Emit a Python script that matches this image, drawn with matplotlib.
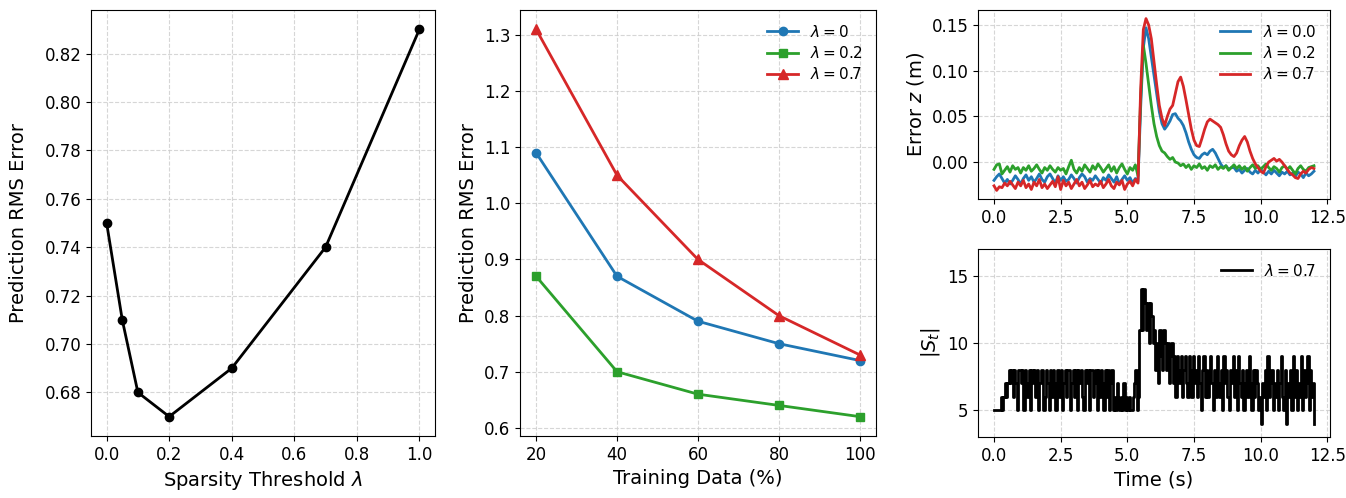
import numpy as np
import matplotlib
matplotlib.use("Agg")
import matplotlib.pyplot as plt

# left panel: sparsity threshold sweep
lam_vals = [0.0, 0.05, 0.1, 0.2, 0.4, 0.7, 1.0]
lam_rms = [0.75, 0.71, 0.68, 0.67, 0.69, 0.74, 0.83]

# middle panel: training data size
train_pct = [20, 40, 60, 80, 100]
rms_l0 = [1.09, 0.87, 0.79, 0.75, 0.72]
rms_l02 = [0.87, 0.70, 0.66, 0.64, 0.62]
rms_l07 = [1.31, 1.05, 0.90, 0.80, 0.73]

# top right: tracking error, 0.1 s steps from 0 to 12 s
t_err = np.round(np.arange(121) * 0.1, 1)

err_l0 = [
    -0.020, -0.016, -0.013, -0.018, -0.023, -0.019, -0.024, -0.020, -0.015, -0.019,
    -0.024, -0.018, -0.014, -0.020, -0.016, -0.022, -0.018, -0.013, -0.019, -0.022,
    -0.016, -0.013, -0.018, -0.023, -0.015, -0.020, -0.016, -0.021, -0.019, -0.014,
    -0.018, -0.023, -0.017, -0.013, -0.016, -0.022, -0.018, -0.020, -0.015, -0.019,
    -0.023, -0.017, -0.020, -0.014, -0.018, -0.022, -0.016, -0.024, -0.019, -0.015,
    -0.020, -0.017, -0.023, -0.018, -0.021, 0.060, 0.125, 0.147, 0.135, 0.115,
    0.095, 0.075, 0.055, 0.042, 0.036, 0.040, 0.045, 0.052, 0.053, 0.048,
    0.045, 0.040, 0.032, 0.022, 0.014, 0.008, 0.005, 0.004, 0.008, 0.010,
    0.008, 0.012, 0.014, 0.010, 0.004, -0.002, -0.006, -0.004, -0.008, -0.006,
    -0.006, -0.010, -0.008, -0.012, -0.009, -0.007, -0.011, -0.013, -0.009, -0.012,
    -0.008, -0.011, -0.014, -0.010, -0.013, -0.009, -0.012, -0.015, -0.011, -0.013,
    -0.010, -0.014, -0.012, -0.016, -0.011, -0.013, -0.017, -0.012, -0.015, -0.013,
    -0.010,
]
err_l02 = [
    -0.008, -0.003, -0.002, -0.013, -0.009, -0.005, -0.011, -0.004, -0.008, -0.006,
    -0.012, -0.006, -0.009, -0.004, -0.010, -0.007, -0.003, -0.008, -0.012, -0.006,
    -0.009, -0.004, -0.008, -0.011, -0.006, -0.009, -0.007, -0.013, -0.005, 0.002,
    -0.008, -0.012, -0.006, -0.010, -0.003, -0.007, -0.011, -0.004, -0.008, -0.002,
    -0.006, -0.011, -0.007, -0.003, -0.010, -0.005, -0.012, -0.006, -0.002, -0.008,
    -0.013, -0.006, -0.009, -0.003, -0.015, 0.070, 0.128, 0.108, 0.085, 0.062,
    0.042, 0.028, 0.018, 0.012, 0.010, 0.006, 0.003, 0.005, 0.000, -0.001,
    -0.004, -0.002, -0.006, -0.003, -0.008, -0.004, -0.006, -0.002, -0.007, -0.005,
    -0.009, -0.004, -0.006, -0.003, -0.008, -0.005, -0.007, -0.004, -0.009, -0.006,
    -0.003, -0.007, -0.004, -0.008, -0.005, -0.010, -0.006, -0.003, -0.007, -0.004,
    -0.008, -0.005, -0.002, -0.006, -0.009, -0.005, -0.007, -0.011, -0.006, -0.004,
    -0.008, -0.005, -0.009, -0.013, -0.007, -0.004, -0.008, -0.010, -0.006, -0.005,
    -0.004,
]
err_l07 = [
    -0.026, -0.031, -0.027, -0.028, -0.023, -0.026, -0.021, -0.025, -0.029, -0.022,
    -0.026, -0.020, -0.028, -0.024, -0.030, -0.022, -0.026, -0.019, -0.028, -0.024,
    -0.029, -0.025, -0.021, -0.027, -0.016, -0.030, -0.020, -0.026, -0.022, -0.029,
    -0.024, -0.019, -0.026, -0.022, -0.029, -0.025, -0.020, -0.027, -0.024, -0.026,
    -0.021, -0.028, -0.024, -0.019, -0.026, -0.029, -0.022, -0.025, -0.020, -0.030,
    -0.024, -0.021, -0.026, -0.019, -0.023, 0.080, 0.145, 0.157, 0.150, 0.135,
    0.110, 0.085, 0.062, 0.048, 0.040, 0.050, 0.058, 0.062, 0.075, 0.088,
    0.093, 0.083, 0.068, 0.052, 0.036, 0.024, 0.018, 0.017, 0.026, 0.036,
    0.044, 0.047, 0.045, 0.043, 0.041, 0.038, 0.030, 0.020, 0.012, 0.008,
    0.006, 0.010, 0.018, 0.024, 0.028, 0.022, 0.012, 0.004, -0.002, -0.006,
    -0.010, -0.012, -0.005, 0.000, 0.002, 0.004, 0.001, 0.003, 0.000, -0.004,
    -0.008, -0.012, -0.014, -0.017, -0.018, -0.013, -0.010, -0.012, -0.008, -0.006,
    -0.007,
]

# bottom right: active set size, 0.05 s steps from 0 to 12 s
t_sup = np.round(np.arange(241) * 0.05, 2)
support_size = [
    5, 5, 5, 5, 5, 6, 5, 6, 7, 6,
    7, 8, 7, 8, 6, 8, 7, 5, 8, 8,
    7, 8, 5, 8, 7, 6, 8, 5, 8, 7,
    8, 6, 8, 5, 7, 8, 8, 5, 6, 8,
    7, 5, 8, 6, 8, 7, 5, 8, 8, 6,
    8, 5, 7, 8, 6, 8, 8, 5, 7, 8,
    6, 8, 5, 8, 7, 8, 6, 5, 8, 7,
    8, 5, 8, 8, 6, 7, 8, 5, 8, 6,
    8, 7, 5, 8, 6, 8, 5, 7, 8, 5,
    6, 5, 7, 6, 5, 6, 5, 7, 5, 6,
    5, 6, 5, 5, 6, 7, 8, 5, 6, 11,
    14, 11, 14, 13, 11, 13, 10, 13, 12, 10,
    11, 8, 10, 7, 11, 9, 8, 11, 10, 8,
    10, 7, 9, 10, 7, 9, 6, 9, 8, 7,
    9, 6, 8, 9, 7, 6, 9, 8, 6, 9,
    7, 8, 6, 9, 7, 5, 8, 9, 6, 8,
    6, 8, 9, 7, 5, 8, 6, 9, 7, 6,
    8, 5, 9, 7, 8, 6, 5, 8, 7, 9,
    6, 8, 5, 9, 7, 6, 8, 5, 7, 8,
    6, 9, 7, 5, 8, 6, 8, 7, 5, 6,
    4, 7, 6, 8, 5, 9, 6, 7, 8, 5,
    7, 6, 8, 5, 7, 9, 6, 5, 8, 4,
    7, 6, 8, 5, 9, 6, 8, 5, 7, 6,
    9, 5, 8, 6, 7, 9, 5, 8, 6, 7,
    4,
]

blue, green, red = "#1f77b4", "#2ca02c", "#d62728"
plt.rcParams["font.size"] = 12

fig = plt.figure(figsize=(13.46, 4.98), dpi=100)
ax1 = fig.add_axes([0.0676, 0.1245, 0.2556, 0.8554])
ax2 = fig.add_axes([0.3863, 0.1245, 0.2645, 0.8554])
ax3 = fig.add_axes([0.7266, 0.6004, 0.2615, 0.3795])
ax4 = fig.add_axes([0.7266, 0.1225, 0.2615, 0.3775])

ax1.plot(lam_vals, lam_rms, color="black", marker="o", lw=2, ms=6)
ax1.set_xlabel(r"Sparsity Threshold $\lambda$", fontsize=14)
ax1.set_ylabel("Prediction RMS Error", fontsize=14, labelpad=12)

ax2.plot(train_pct, rms_l0, color=blue, marker="o", lw=2, ms=6, label=r"$\lambda = 0$")
ax2.plot(train_pct, rms_l02, color=green, marker="s", lw=2, ms=6, label=r"$\lambda = 0.2$")
ax2.plot(train_pct, rms_l07, color=red, marker="^", lw=2, ms=7, label=r"$\lambda = 0.7$")
ax2.set_xlabel("Training Data (%)", fontsize=14)
ax2.set_ylabel("Prediction RMS Error", fontsize=14)
ax2.set_xticks(train_pct)
ax2.legend(loc="upper right", frameon=False, fontsize=11, labelspacing=0.35)

ax3.plot(t_err, err_l0, color=blue, lw=2, label=r"$\lambda = 0.0$")
ax3.plot(t_err, err_l02, color=green, lw=2, label=r"$\lambda = 0.2$")
ax3.plot(t_err, err_l07, color=red, lw=2, label=r"$\lambda = 0.7$")
ax3.set_ylabel(r"Error $z$ (m)", fontsize=14)
ax3.set_xticks([0, 2.5, 5, 7.5, 10, 12.5])
ax3.legend(loc="upper right", frameon=False, fontsize=11, labelspacing=0.35)

ax4.plot(t_sup, support_size, color="black", lw=2, drawstyle="steps-post", label=r"$\lambda = 0.7$")
ax4.set_ylim(3, 17)
ax4.set_yticks([5, 10, 15])
ax4.set_xticks([0, 2.5, 5, 7.5, 10, 12.5])
ax4.set_xlabel("Time (s)", fontsize=14)
ax4.set_ylabel(r"$|S_t|$", fontsize=14)
ax4.legend(loc="upper right", frameon=False, fontsize=11)

for ax in (ax1, ax2, ax3, ax4):
    ax.grid(True, linestyle="--", color="#cccccc", alpha=0.8, lw=0.8)
    ax.tick_params(labelsize=12)

fig.savefig("out.png", dpi=100)
